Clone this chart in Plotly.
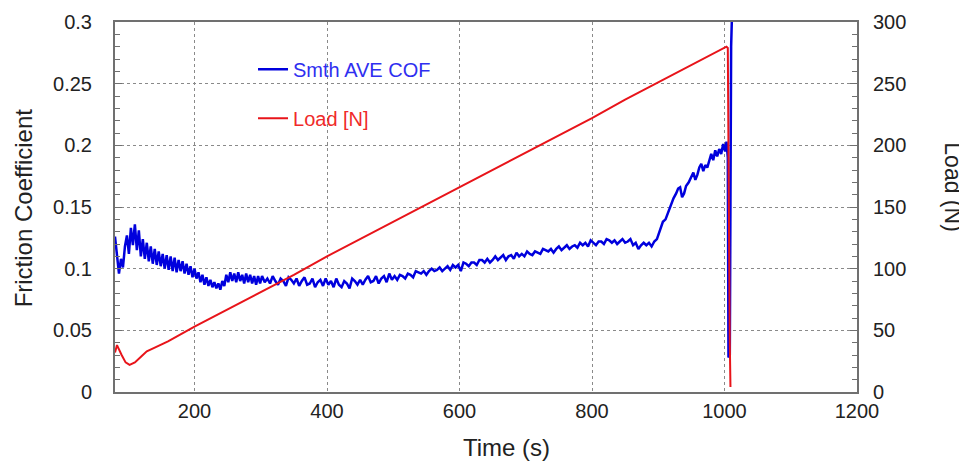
import plotly.graph_objects as go

# ---- data ----
cof_time = [80, 83, 86, 89, 92, 95, 98, 101, 104, 107, 110, 113, 116, 119, 122, 125, 128, 131, 134, 137,
            140, 143, 146, 149, 152, 155, 158, 161, 164, 167, 170, 173, 176, 179, 182, 185, 188, 191, 194, 197,
            200, 203, 206, 209, 212, 215, 218, 221, 224, 227, 230, 233, 236, 239, 242, 245, 248, 251, 254, 257,
            260, 263, 266, 269, 272, 275, 278, 281, 284, 287, 290, 293, 296, 299,
            302, 306, 310, 314, 318, 322, 326, 330, 334, 338, 342, 346, 350, 354, 358, 362, 366, 370, 374, 378,
            382, 386, 390, 394, 398, 402, 406, 410, 414, 418, 422, 426, 430, 434, 438, 442, 446, 450, 454, 458,
            462, 466, 470, 474, 478, 482, 486, 490, 494, 498,
            502, 506, 510, 514, 518, 522, 526, 530, 534, 538, 542, 546, 550, 554, 558, 562, 566, 570, 574, 578,
            582, 586, 590, 594, 598, 602, 606, 610, 614, 618, 622, 626, 630, 634, 638, 642, 646, 650, 654, 658,
            662, 666, 670, 674, 678, 682, 686, 690, 694, 698, 702, 706, 710, 714, 718, 722, 726, 730, 734, 738,
            742, 746, 750, 754, 758, 762, 766, 770, 774, 778, 782, 786, 790, 794, 798, 802, 806, 810, 814, 818,
            822, 826, 830, 834, 838, 842, 846, 850, 854, 858, 862, 866, 870, 874, 878, 882, 886, 890, 894, 898,
            903, 907, 911, 915, 919, 923, 927, 930, 933, 936, 939, 942, 946, 950, 953, 956, 959, 962,
            965, 968, 971, 974, 977, 980, 983, 986, 989, 992, 995, 998, 1001, 1003, 1005, 1006, 1008, 1010, 1012]
cof_value = [0.126, 0.112, 0.096, 0.108, 0.101, 0.118, 0.127, 0.112, 0.133, 0.119, 0.136, 0.115, 0.131, 0.110, 0.124, 0.108, 0.121, 0.106, 0.118, 0.104,
             0.116, 0.103, 0.114, 0.102, 0.112, 0.100, 0.111, 0.099, 0.110, 0.098, 0.109, 0.097, 0.107, 0.098, 0.106, 0.096, 0.104, 0.095, 0.102, 0.093,
             0.100, 0.092, 0.097, 0.089, 0.095, 0.087, 0.093, 0.086, 0.091, 0.085, 0.089, 0.084, 0.088, 0.083, 0.090, 0.086, 0.095, 0.089, 0.097, 0.090,
             0.096, 0.089, 0.097, 0.090, 0.095, 0.088, 0.096, 0.089, 0.095, 0.088, 0.094, 0.087, 0.094, 0.088,
             0.094, 0.089, 0.092, 0.088, 0.094, 0.090, 0.087, 0.092, 0.090, 0.086, 0.093, 0.091, 0.088, 0.092, 0.086, 0.090, 0.093, 0.087, 0.088, 0.092,
             0.085, 0.089, 0.091, 0.086, 0.092, 0.087, 0.090, 0.085, 0.092, 0.087, 0.085, 0.090, 0.088, 0.084, 0.092, 0.090, 0.087, 0.091, 0.087, 0.091,
             0.094, 0.089, 0.090, 0.094, 0.088, 0.092, 0.094, 0.089, 0.096, 0.091,
             0.094, 0.091, 0.095, 0.094, 0.092, 0.096, 0.095, 0.093, 0.098, 0.097, 0.096, 0.098, 0.095, 0.098, 0.100, 0.098, 0.099, 0.101, 0.098, 0.100,
             0.102, 0.099, 0.103, 0.101, 0.103, 0.098, 0.105, 0.104, 0.102, 0.105, 0.105, 0.103, 0.107, 0.107, 0.105, 0.108, 0.105, 0.107, 0.110, 0.107,
             0.109, 0.111, 0.107, 0.110, 0.111, 0.108, 0.113, 0.110, 0.112, 0.110, 0.114, 0.112, 0.111, 0.114, 0.113, 0.112, 0.116, 0.115, 0.114, 0.116,
             0.113, 0.116, 0.118, 0.115, 0.117, 0.119, 0.116, 0.118, 0.119, 0.117, 0.121, 0.119, 0.121, 0.118, 0.123, 0.121, 0.119, 0.122, 0.122, 0.120,
             0.124, 0.123, 0.121, 0.123, 0.120, 0.122, 0.124, 0.121, 0.122, 0.124, 0.119, 0.121, 0.116, 0.119, 0.121, 0.119, 0.121, 0.118, 0.122, 0.124,
             0.132, 0.138, 0.140, 0.146, 0.152, 0.157, 0.161, 0.165, 0.166, 0.158, 0.161, 0.167, 0.170, 0.175, 0.178, 0.172, 0.176, 0.182,
             0.185, 0.179, 0.184, 0.182, 0.188, 0.193, 0.188, 0.196, 0.191, 0.197, 0.193, 0.201, 0.195, 0.203, 0.190, 0.028, 0.030, 0.280, 0.320]

load_time = [80, 83, 90, 96, 102, 110, 120, 128, 140, 160, 200, 250, 300, 350, 400, 450, 500, 550, 600,
             650, 700, 750, 800, 850, 900, 950, 1000, 1003, 1005, 1006, 1008, 1009]
load_value = [32, 38, 30, 24, 22, 24, 29, 33, 36, 41, 53, 67, 81, 95, 110, 124, 138, 152, 166,
              180, 194, 208, 222, 237, 251, 265, 279, 280, 279, 180, 40, 4]

cof_name = "Smth AVE COF"
load_name = "Load [N]"
x_title = "Time (s)"
y_title = "Friction Coefficient"
y2_title = "Load (N)"

FONT = "Liberation Sans, Arial, sans-serif"
AX = "#707070"
GRID = "#8a8a8a"
BLUE = "#0000dd"
RED = "#e8141a"

fig = go.Figure()
fig.add_trace(go.Scatter(
    x=cof_time, y=cof_value, mode="lines", yaxis="y",
    line=dict(color=BLUE, width=2.5),
    name='<span style="color:#2f2ff0">' + cof_name + '</span>',
    legendgroup="a"))
fig.add_trace(go.Scatter(
    x=load_time, y=load_value, mode="lines", yaxis="y2",
    line=dict(color=RED, width=2),
    name='<span style="color:#f02a2a">' + load_name + '</span>',
    legendgroup="b"))

fig.update_layout(
    width=959, height=454,
    margin=dict(l=107, r=110, t=14, b=70, autoexpand=False),
    paper_bgcolor="white", plot_bgcolor="white",
    font=dict(family=FONT, size=20, color="#222222"),
    showlegend=True,
    legend=dict(x=0.186, y=0.925, xanchor="left", yanchor="top",
                bgcolor="rgba(0,0,0,0)", borderwidth=0,
                tracegroupgap=20, font=dict(size=20, family=FONT),
                traceorder="grouped"),
    xaxis=dict(range=[80, 1200], tickvals=[200, 400, 600, 800, 1000, 1200],
               showline=True, linecolor=AX, linewidth=2, mirror=True,
               showgrid=True, gridcolor=GRID, griddash="dot", gridwidth=1,
               ticks="", zeroline=False, ticklabelstandoff=0,
               tickfont=dict(size=20, family=FONT, color="#222222")),
    yaxis=dict(range=[0, 0.3], dtick=0.05,
               showline=True, linecolor=AX, linewidth=2, mirror=True,
               showgrid=True, gridcolor=GRID, griddash="dot", gridwidth=1,
               ticks="inside", ticklen=7, tickcolor=AX, tickwidth=1,
               minor=dict(dtick=0.01, ticks="inside", ticklen=5, tickcolor=AX, showgrid=False),
               zeroline=False, ticklabelstandoff=17,
               tickfont=dict(size=20, family=FONT, color="#222222")),
    yaxis2=dict(range=[0, 300], dtick=50, overlaying="y", side="right",
                showline=True, linecolor=AX, linewidth=2,
                showgrid=False, zeroline=False,
                ticks="inside", ticklen=7, tickcolor=AX, tickwidth=1,
                minor=dict(dtick=10, ticks="inside", ticklen=5, tickcolor=AX),
                ticklabelstandoff=10,
                tickfont=dict(size=20, family=FONT, color="#222222")),
    annotations=[
        dict(text=x_title, xref="paper", yref="paper", x=0.527, y=-0.149,
             xanchor="center", yanchor="middle", showarrow=False,
             font=dict(size=24, family=FONT, color="#222222")),
        dict(text=y_title, xref="paper", yref="paper", x=-0.124, y=0.499,
             xanchor="center", yanchor="middle", showarrow=False, textangle=-90,
             font=dict(size=24, family=FONT, color="#222222")),
        dict(text=y2_title, xref="paper", yref="paper", x=1.129, y=0.554,
             xanchor="center", yanchor="middle", showarrow=False, textangle=90,
             font=dict(size=23, family=FONT, color="#222222")),
    ],
)

fig.write_html("out.html")
